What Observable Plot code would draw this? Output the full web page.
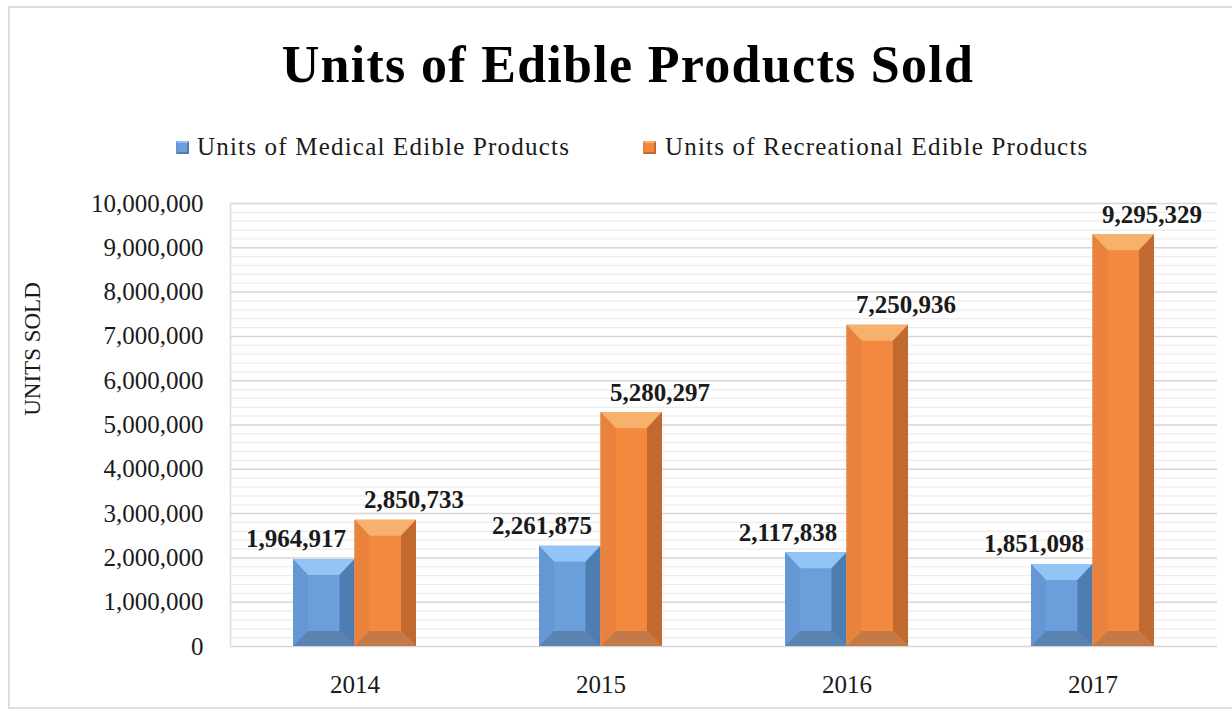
<!DOCTYPE html>
<html>
<head>
<meta charset="utf-8">
<script src="https://cdn.jsdelivr.net/npm/d3@7"></script>
<script src="https://cdn.jsdelivr.net/npm/@observablehq/plot@0.6"></script>
<style>
  html, body { margin: 0; padding: 0; background: #fff; }
  body { width: 1232px; height: 715px; overflow: hidden; position: relative; font-family: "Liberation Serif", "Times New Roman", serif; color: #1a1a1a; }
  #frame { position: absolute; left: 8px; top: 6px; width: 1240px; height: 703px; border: 2px solid #dedede; box-sizing: border-box; }
  #title { position: absolute; left: 0; top: 39px; width: 1256px; text-align: center; font-size: 52px; line-height: 52px; font-weight: bold; letter-spacing: 1.3px; color: #000; white-space: nowrap; }
  .leg { position: absolute; top: 134px; font-size: 25px; line-height: 25px; letter-spacing: 1.2px; white-space: nowrap; color: #1a1a1a; }
  .sw { position: absolute; top: 141px; width: 13px; height: 13px; box-sizing: border-box; }
  #ylabel { position: absolute; left: 32px; top: 349px; transform: translate(-50%, -50%) rotate(-90deg); font-size: 23px; line-height: 23px; white-space: nowrap; color: #1a1a1a; }
  #chart { position: absolute; left: 0; top: 170px; }
</style>
</head>
<body>
<div id="frame"></div>
<div id="title">Units of Edible Products Sold</div>
<div class="sw" style="left:176px;background:#6a9fdb;border:2px solid #4e7db2;border-top-color:#92c5f6;border-left-color:#6597d4;"></div>
<div class="leg" style="left:197px;">Units of Medical Edible Products</div>
<div class="sw" style="left:643px;background:#f3893f;border:2px solid #c1692e;border-top-color:#f6b16c;border-left-color:#e8823c;"></div>
<div class="leg" style="left:665px;">Units of Recreational Edible Products</div>
<div id="ylabel">UNITS SOLD</div>
<div id="chart"></div>
<script>
// ---- data ----
const years = ["2014", "2015", "2016", "2017"];
const medical = [1964917, 2261875, 2117838, 1851098];
const recreational = [2850733, 5280297, 7250936, 9295329];
const seriesNames = ["Medical", "Recreational"];
const yTicks = [0, 1000000, 2000000, 3000000, 4000000, 5000000, 6000000, 7000000, 8000000, 9000000, 10000000];
const minorTicks = d3.range(0, 10000000, 200000).filter(v => v % 1000000 !== 0);

const palette = {
  Medical: {face: "#6a9fdb", top: "#92c5f6", left: "#6597d4", right: "#4e7db2", bottom: "#5b83b2"},
  Recreational: {face: "#f3893f", top: "#f6b16c", left: "#e8823c", right: "#c1692e", bottom: "#c47a48"}
};

const data = years.flatMap((yr, i) => [
  {year: yr, series: seriesNames[0], value: medical[i]},
  {year: yr, series: seriesNames[1], value: recreational[i]}
]);

const fmt = d3.format(",");

// bevelled bars drawn with the plot's own scales
function bevelBars(index, scales, values, dimensions) {
  const x = scales.x, y = scales.y;
  const band = x.bandwidth ? x.bandwidth() : 0;
  const bw = band / 2;
  const g = d3.create("svg:g");
  const y0 = y(0);
  const poly = (pts, fill) => g.append("polygon").attr("points", pts.map(p => p.join(",")).join(" ")).attr("fill", fill);
  for (const d of data) {
    const left = x(d.year) + (d.series === "Medical" ? 0 : bw);
    const right = left + bw;
    const top = y(d.value);
    const c = palette[d.series];
    const bx = 15, bt = 16, bb = 15;
    const il = left + bx, ir = right - bx, it = top + bt, ib = y0 - bb;
    poly([[left, top], [right, top], [right, y0], [left, y0]], c.face);
    poly([[left, top], [right, top], [ir, it], [il, it]], c.top);
    poly([[left, top], [il, it], [il, ib], [left, y0]], c.left);
    poly([[right, top], [right, y0], [ir, ib], [ir, it]], c.right);
    poly([[left, y0], [il, ib], [ir, ib], [right, y0]], c.bottom);
  }
  return g.node();
}

function leftEdge(index, scales, values, dimensions) {
  const g = d3.create("svg:g");
  g.append("line")
    .attr("x1", dimensions.marginLeft + 0.5).attr("x2", dimensions.marginLeft + 0.5)
    .attr("y1", dimensions.marginTop).attr("y2", dimensions.height - dimensions.marginBottom)
    .attr("stroke", "#dcdcdc").attr("stroke-width", 1.5);
  return g.node();
}

const chart = Plot.plot({
  width: 1232,
  height: 545,
  marginLeft: 230,
  marginRight: 15,
  marginTop: 33,
  marginBottom: 69,
  style: {fontFamily: "'Liberation Serif', serif", fontSize: "25px", color: "#1a1a1a", background: "transparent", overflow: "visible"},
  x: {type: "band", domain: years, paddingInner: 0.5, paddingOuter: 0.25, label: null, tickSize: 0, tickPadding: 29},
  y: {domain: [0, 10000000], ticks: yTicks, tickFormat: fmt, label: null, tickSize: 0, tickPadding: 27},
  marks: [
    Plot.ruleY(minorTicks, {stroke: "#ececec", strokeWidth: 1.2}),
    Plot.ruleY(yTicks, {stroke: "#d6d6d6", strokeWidth: 1.5}),
    leftEdge,
    bevelBars,
    Plot.text(data.filter(d => d.series === "Medical"), {x: "year", y: "value", text: d => fmt(d.value), dx: -59, dy: -20, fontWeight: "bold", fontSize: 25, fill: "#1a1a1a"}),
    Plot.text(data.filter(d => d.series === "Recreational"), {x: "year", y: "value", text: d => fmt(d.value), dx: 59, dy: -20, fontWeight: "bold", fontSize: 25, fill: "#1a1a1a"})
  ]
});
document.getElementById("chart").appendChild(chart);
</script>
</body>
</html>
